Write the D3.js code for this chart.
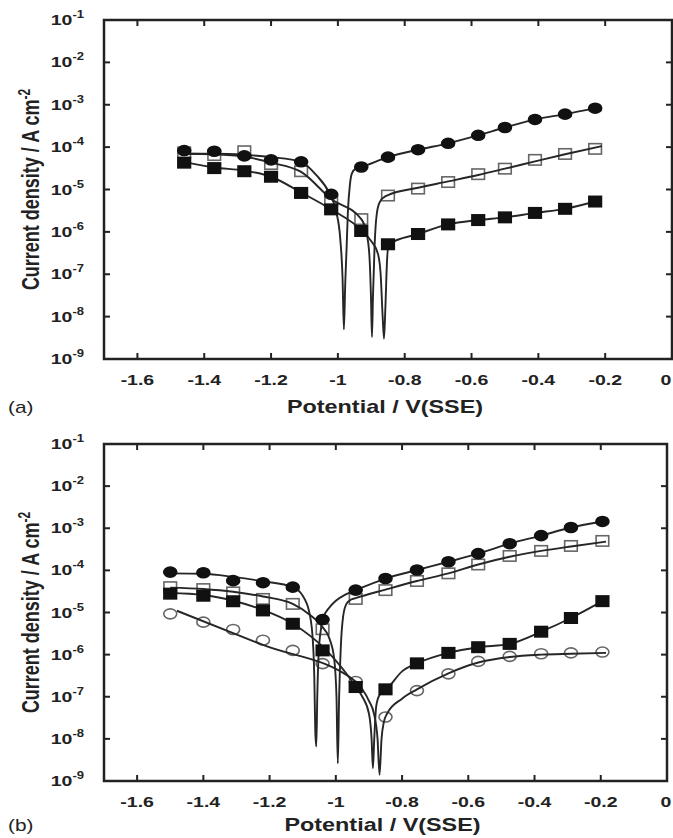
<!DOCTYPE html>
<html>
<head>
<meta charset="utf-8">
<script src="https://cdn.jsdelivr.net/npm/d3@7"></script>
<style>
body { margin: 0; background: #fff; }
svg text { font-family: "Liberation Sans", Arial, sans-serif; fill: #222; }
</style>
</head>
<body>
<svg id="chart" width="673" height="838"></svg>
<script>
'use strict';

/************************************************ data ******************************************************/

var xTickVals = [-1.6, -1.4, -1.2, -1, -0.8, -0.6, -0.4, -0.2, 0];
var yTickExps = [-9, -8, -7, -6, -5, -4, -3, -2, -1];

// panel (a) measured points
var potA = [-1.46, -1.37, -1.28, -1.20, -1.11, -1.02, -0.93, -0.85, -0.76, -0.67, -0.58, -0.50, -0.41, -0.32, -0.23];
var circA = [8.3e-5, 8.0e-5, 6.2e-5, 5.0e-5, 4.5e-5, 7.7e-6, 3.4e-5, 5.8e-5, 8.7e-5, 1.23e-4, 1.9e-4, 2.9e-4, 4.5e-4, 6.0e-4, 8.3e-4];
var openSqA = [7.5e-5, 6.5e-5, 8.0e-5, 4.0e-5, 2.7e-5, 5.5e-6, 2.0e-6, 7.2e-6, 1.05e-5, 1.5e-5, 2.3e-5, 3.1e-5, 5.0e-5, 6.9e-5, 9.1e-5];
var fillSqA = [4.3e-5, 3.2e-5, 2.7e-5, 2.0e-5, 8.3e-6, 3.4e-6, 1.05e-6, 5.1e-7, 8.9e-7, 1.5e-6, 1.9e-6, 2.2e-6, 2.8e-6, 3.5e-6, 5.2e-6];

// panel (a) fitted curves [potential, current density]
var fitCircA = [[-1.46, 7.0e-5], [-1.37, 7.0e-5], [-1.28, 6.6e-5], [-1.20, 5.8e-5], [-1.11, 4.5e-5], [-1.065, 2.2e-5],
    [-1.025, 8e-6], [-1.005, 3e-6], [-0.993, 7e-7], [-0.986, 8e-8], [-0.982, 5e-9], [-0.978, 6e-8], [-0.974, 4e-7],
    [-0.970, 3e-6], [-0.964, 1.3e-5], [-0.958, 2.4e-5], [-0.947, 3.1e-5], [-0.93, 3.4e-5], [-0.85, 5.8e-5],
    [-0.76, 8.7e-5], [-0.67, 1.23e-4], [-0.58, 1.9e-4], [-0.50, 2.9e-4], [-0.41, 4.5e-4], [-0.32, 6.0e-4], [-0.23, 8.3e-4]];
var fitOpenSqA = [[-1.46, 7.0e-5], [-1.37, 6.8e-5], [-1.28, 6.0e-5], [-1.20, 4.3e-5], [-1.11, 2.6e-5], [-1.02, 6e-6],
    [-0.93, 2.0e-6], [-0.915, 1.0e-6], [-0.906, 3e-7], [-0.901, 3e-8], [-0.898, 3.3e-9], [-0.895, 3e-8],
    [-0.890, 5e-7], [-0.884, 2.5e-6], [-0.875, 5e-6], [-0.862, 6.6e-6], [-0.85, 7.4e-6], [-0.76, 1.1e-5],
    [-0.67, 1.55e-5], [-0.58, 2.2e-5], [-0.50, 3.1e-5], [-0.41, 4.6e-5], [-0.32, 6.8e-5], [-0.21, 1.06e-4]];
var fitFillSqA = [[-1.46, 4.5e-5], [-1.37, 3.3e-5], [-1.28, 2.8e-5], [-1.20, 2.0e-5], [-1.11, 8.5e-6], [-1.02, 3.4e-6],
    [-0.93, 1.1e-6], [-0.90, 6e-7], [-0.88, 3e-7], [-0.872, 1e-7], [-0.866, 1e-8], [-0.862, 3e-9], [-0.858, 1.5e-8],
    [-0.853, 2e-7], [-0.848, 5.1e-7], [-0.76, 8.9e-7], [-0.67, 1.5e-6], [-0.58, 1.9e-6], [-0.50, 2.2e-6],
    [-0.41, 2.8e-6], [-0.32, 3.5e-6], [-0.23, 5.2e-6]];

// panel (b) measured points
var potB = [-1.50, -1.40, -1.31, -1.22, -1.13, -1.04, -0.94, -0.85, -0.755, -0.66, -0.57, -0.475, -0.38, -0.29, -0.195];
var circB = [9.1e-5, 8.8e-5, 5.7e-5, 5.1e-5, 4.0e-5, 6.8e-6, 3.4e-5, 6.4e-5, 1.02e-4, 1.6e-4, 2.5e-4, 4.3e-4, 6.7e-4, 1.04e-3, 1.45e-3];
var openSqB = [4.0e-5, 3.6e-5, 3.0e-5, 2.1e-5, 1.6e-5, 4.0e-6, 2.1e-5, 3.4e-5, 5.6e-5, 8.5e-5, 1.38e-4, 2.2e-4, 2.9e-4, 3.8e-4, 5.0e-4];
var fillSqB = [2.8e-5, 2.5e-5, 1.85e-5, 1.12e-5, 5.4e-6, 1.26e-6, 1.7e-7, 1.5e-7, 6.2e-7, 1.1e-6, 1.5e-6, 1.8e-6, 3.5e-6, 7.4e-6, 1.86e-5];
var openCircB = [9.3e-6, 5.9e-6, 3.95e-6, 2.2e-6, 1.26e-6, 6.1e-7, 2.3e-7, 3.3e-8, 1.4e-7, 3.5e-7, 6.9e-7, 9.1e-7, 1.05e-6, 1.1e-6, 1.15e-6];

// panel (b) fitted curves
var fitCircB = [[-1.50, 8.5e-5], [-1.40, 8.3e-5], [-1.31, 7.0e-5], [-1.22, 5.5e-5], [-1.13, 4.0e-5], [-1.10, 2.5e-5],
    [-1.08, 1e-5], [-1.07, 2.5e-6], [-1.065, 3e-7], [-1.062, 1.5e-8], [-1.059, 6.6e-9], [-1.056, 1e-7],
    [-1.052, 1e-6], [-1.045, 4e-6], [-1.04, 6.8e-6], [-1.02, 1.3e-5], [-1.0, 1.9e-5], [-0.97, 2.7e-5], [-0.94, 3.4e-5],
    [-0.85, 6.4e-5], [-0.755, 1.02e-4], [-0.66, 1.6e-4], [-0.57, 2.5e-4], [-0.475, 4.3e-4], [-0.38, 6.7e-4],
    [-0.29, 1.04e-3], [-0.195, 1.45e-3]];
var fitOpenSqB = [[-1.50, 3.9e-5], [-1.40, 3.6e-5], [-1.31, 3.1e-5], [-1.22, 2.4e-5], [-1.13, 1.6e-5], [-1.08, 9e-6],
    [-1.04, 4.5e-6], [-1.02, 2.5e-6], [-1.005, 8e-7], [-0.998, 1e-7], [-0.994, 2.6e-9], [-0.990, 1e-7],
    [-0.985, 1.5e-6], [-0.978, 8e-6], [-0.968, 1.6e-5], [-0.955, 2e-5], [-0.94, 2.2e-5], [-0.85, 3.5e-5],
    [-0.755, 5.6e-5], [-0.66, 8.5e-5], [-0.57, 1.38e-4], [-0.475, 2.1e-4], [-0.38, 2.9e-4], [-0.29, 3.7e-4],
    [-0.184, 4.8e-4]];
var fitFillSqB = [[-1.50, 2.9e-5], [-1.40, 2.6e-5], [-1.31, 1.9e-5], [-1.22, 1.15e-5], [-1.13, 5.4e-6], [-1.03, 1.3e-6],
    [-0.94, 1.75e-7], [-0.92, 1e-7], [-0.90, 4e-8], [-0.892, 1e-8], [-0.888, 2e-9], [-0.884, 1e-8], [-0.878, 6e-8],
    [-0.868, 1.1e-7], [-0.845, 1.55e-7], [-0.80, 4e-7], [-0.755, 6.2e-7], [-0.66, 1.1e-6], [-0.57, 1.5e-6],
    [-0.475, 1.8e-6], [-0.38, 3.5e-6], [-0.29, 7.4e-6], [-0.195, 1.86e-5]];
var fitOpenCircB = [[-1.48, 1.1e-5], [-1.22, 1.7e-6], [-0.94, 2.3e-7], [-0.92, 1.5e-7], [-0.90, 8e-8], [-0.885, 4e-8],
    [-0.874, 1e-8], [-0.868, 1.4e-9], [-0.862, 1e-8], [-0.855, 2.5e-8], [-0.845, 4e-8], [-0.80, 9e-8],
    [-0.755, 1.5e-7], [-0.66, 3.6e-7], [-0.57, 6.5e-7], [-0.475, 8.8e-7], [-0.38, 1.0e-6], [-0.29, 1.05e-6],
    [-0.184, 1.1e-6]];

/************************************************ drawing ******************************************************/

var SX = 1.3; // the scanned figure is stretched sideways, text too

var svg = d3.select('#chart');

drawPanel({
    left: 104, right: 672, top: 20, bottom: 359, titleY: 413, tag: '(a)',
    pot: potA,
    open: [{ vals: openSqA, shape: 'square' }],
    filled: [{ vals: circA, shape: 'circle' }, { vals: fillSqA, shape: 'square' }],
    fits: [fitCircA, fitOpenSqA, fitFillSqA]
});

drawPanel({
    left: 104, right: 667, top: 444, bottom: 781, titleY: 831, tag: '(b)',
    pot: potB,
    open: [{ vals: openSqB, shape: 'square' }, { vals: openCircB, shape: 'circle' }],
    filled: [{ vals: circB, shape: 'circle' }, { vals: fillSqB, shape: 'square' }],
    fits: [fitCircB, fitOpenSqB, fitFillSqB, fitOpenCircB]
});

/**stretched
 *  adds a text that is widened like the scanned original
 */
function stretched(g, x, y, anchor, size, weight) {
    return g.append('text')
        .attr('transform', 'translate(' + x + ',' + y + ') scale(' + SX + ',1)')
        .attr('text-anchor', anchor)
        .attr('font-size', size)
        .attr('font-weight', weight);
}

function drawPanel(p) {
    var x = d3.scaleLinear().domain([-1.7, 0]).range([p.left, p.right]);
    var y = d3.scaleLog().domain([1e-9, 1e-1]).range([p.bottom, p.top]);
    var g = svg.append('g');
    var tick = 6;

    var line = d3.line()
        .x(function (d) { return x(d[0]); })
        .y(function (d) { return y(d[1]); })
        .curve(d3.curveMonotoneX);

    //inward ticks on all four sides
    xTickVals.forEach(function (v) {
        g.append('line').attr('x1', x(v)).attr('x2', x(v)).attr('y1', p.bottom).attr('y2', p.bottom - tick);
        g.append('line').attr('x1', x(v)).attr('x2', x(v)).attr('y1', p.top).attr('y2', p.top + tick);
    });
    yTickExps.forEach(function (e) {
        var yy = y(Math.pow(10, e));
        g.append('line').attr('x1', p.left).attr('x2', p.left + tick).attr('y1', yy).attr('y2', yy);
        g.append('line').attr('x1', p.right).attr('x2', p.right - tick).attr('y1', yy).attr('y2', yy);
    });
    g.selectAll('line').attr('stroke', '#222').attr('stroke-width', 2);

    //open markers sit under the lines
    p.open.forEach(function (s) {
        drawMarkers(g, s, p.pot, x, y, '#fff', '#666');
    });

    p.fits.forEach(function (f) {
        g.append('path')
            .attr('d', line(f))
            .attr('fill', 'none')
            .attr('stroke', '#262626')
            .attr('stroke-width', 1.9);
    });

    p.filled.forEach(function (s) {
        drawMarkers(g, s, p.pot, x, y, '#111', '#111');
    });

    g.append('rect')
        .attr('x', p.left).attr('y', p.top)
        .attr('width', p.right - p.left).attr('height', p.bottom - p.top)
        .attr('fill', 'none').attr('stroke', '#222').attr('stroke-width', 2.5);

    //tick labels; the last one is kept inside the page
    xTickVals.forEach(function (v) {
        var xx = Math.min(x(v), 666);
        stretched(g, xx, p.bottom + 26, 'middle', 15, 'bold').text(String(+v.toFixed(1)));
    });
    yTickExps.forEach(function (e) {
        var t = stretched(g, p.left - 20, y(Math.pow(10, e)) + 5, 'end', 15, 'bold');
        t.append('tspan').text('10');
        t.append('tspan').attr('font-size', 10).attr('dy', -7).text(String(e));
    });

    //axis titles
    stretched(g, (p.left + p.right) / 2 - 3, p.titleY, 'middle', 18, 'bold').text('Potential / V(SSE)');
    stretched(g, 8, p.titleY, 'start', 16, 'normal').text(p.tag);

    var yt = g.append('text')
        .attr('transform', 'translate(39,' + ((p.top + p.bottom) / 2) + ') rotate(-90) scale(1,' + SX + ')')
        .attr('text-anchor', 'middle')
        .attr('font-size', 18)
        .attr('font-weight', 'bold');
    yt.append('tspan').text('Current density / A cm');
    yt.append('tspan').attr('font-size', 12).attr('dy', -7).text('-2');
}

function drawMarkers(g, s, pot, x, y, fill, stroke) {
    var pts = s.vals.map(function (v, i) { return [pot[i], v]; });
    var sel = g.selectAll(null).data(pts).enter();
    if (s.shape === 'circle') {
        sel.append('ellipse')
            .attr('cx', function (d) { return x(d[0]); })
            .attr('cy', function (d) { return y(d[1]); })
            .attr('rx', 6.5).attr('ry', 5)
            .attr('fill', fill).attr('stroke', stroke).attr('stroke-width', 1.6);
    } else {
        sel.append('rect')
            .attr('x', function (d) { return x(d[0]) - 6.3; })
            .attr('y', function (d) { return y(d[1]) - 5.2; })
            .attr('width', 12.6).attr('height', 10.4)
            .attr('fill', fill).attr('stroke', stroke).attr('stroke-width', 1.6);
    }
}
</script>
</body>
</html>
